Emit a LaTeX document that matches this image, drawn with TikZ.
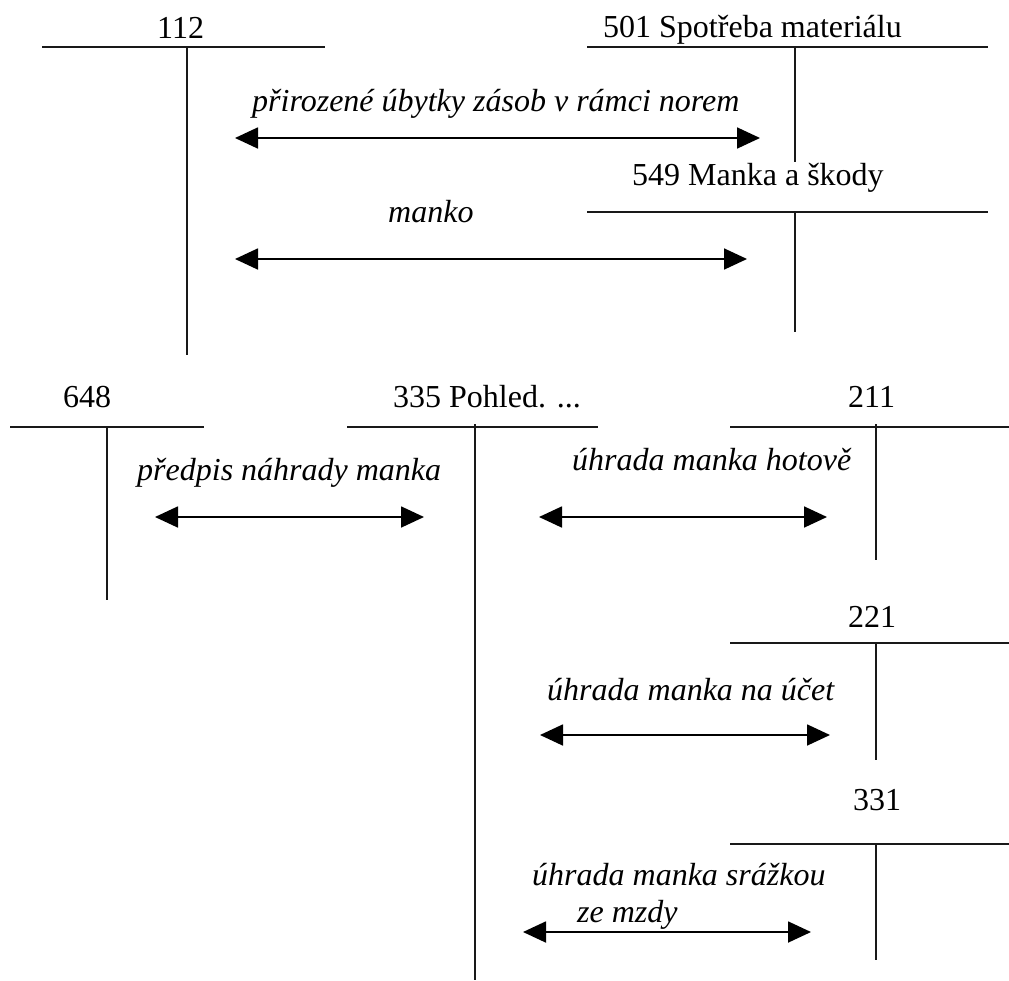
\documentclass[tikz,border=0pt]{standalone}
\usepackage{fontspec}
\setmainfont{Liberation Serif}
\usetikzlibrary{arrows.meta}
\begin{document}
\begin{tikzpicture}[x=1pt,y=-1pt,
  acct/.style={line width=1.8pt,draw=black!90},
  flow/.style={line width=1.8pt,draw=black,{Triangle[length=23pt,width=21pt]}-{Triangle[length=23pt,width=21pt]}},
  title/.style={anchor=base west,inner sep=0pt,font=\fontsize{32}{38}\selectfont},
  note/.style={anchor=base west,inner sep=0pt,font=\fontsize{32}{38}\selectfont\itshape}]
\useasboundingbox (0,0) rectangle (1009,980);

% T-accounts: titles, top rules and middle rules
\node[title] (t112) at (157,38) {112};
\draw[acct] (42,47) -- (325,47) (187,47) -- (187,355);

\node[title] (t501) at (603,37) {501 Spotřeba materiálu};
\draw[acct] (587,47) -- (988,47) (795,47) -- (795,162);

\node[title] (t549) at (632,185) {549 Manka a škody};
\draw[acct] (587,212) -- (988,212) (795,212) -- (795,332);

\node[title] (t648) at (63,407) {648};
\draw[acct] (10,427) -- (204,427) (107,427) -- (107,600);

\node[title] (t335) at (393,407) {335 Pohled. ...};
\draw[acct] (347,427) -- (598,427) (475,424) -- (475,980);

\node[title] (t211) at (848,407) {211};
\draw[acct] (730,427) -- (1009,427) (876,424) -- (876,560);

\node[title] (t221) at (848,627) {221};
\draw[acct] (730,643) -- (1009,643) (876,643) -- (876,760);

\node[title] (t331) at (853,810) {331};
\draw[acct] (730,844) -- (1009,844) (876,844) -- (876,960);

% arrow end points
\coordinate (a1l) at (235,138); \coordinate (a1r) at (760,138);
\coordinate (a2l) at (235,259); \coordinate (a2r) at (747,259);
\coordinate (a3l) at (155,517); \coordinate (a3r) at (424,517);
\coordinate (a4l) at (539,517); \coordinate (a4r) at (827,517);
\coordinate (a5l) at (540,735); \coordinate (a5r) at (830,735);
\coordinate (a6l) at (523,932); \coordinate (a6r) at (811,932);

% postings
\node[note] (p1) at (252,111) {přirozené úbytky zásob v rámci norem};
\draw[flow] (a1l) -- (a1r);

\node[note] (p2) at (388,222) {manko};
\draw[flow] (a2l) -- (a2r);

\node[note] (p3) at (137,480) {předpis náhrady manka};
\draw[flow] (a3l) -- (a3r);

\node[note] (p4) at (572,470) {úhrada manka hotově};
\draw[flow] (a4l) -- (a4r);

\node[note] (p5) at (547,700) {úhrada manka na účet};
\draw[flow] (a5l) -- (a5r);

\node[note] (p6) at (532,885) {úhrada manka srážkou};
\node[note] (p6b) at (577,922) {ze mzdy};
\draw[flow] (a6l) -- (a6r);
\end{tikzpicture}
\end{document}
